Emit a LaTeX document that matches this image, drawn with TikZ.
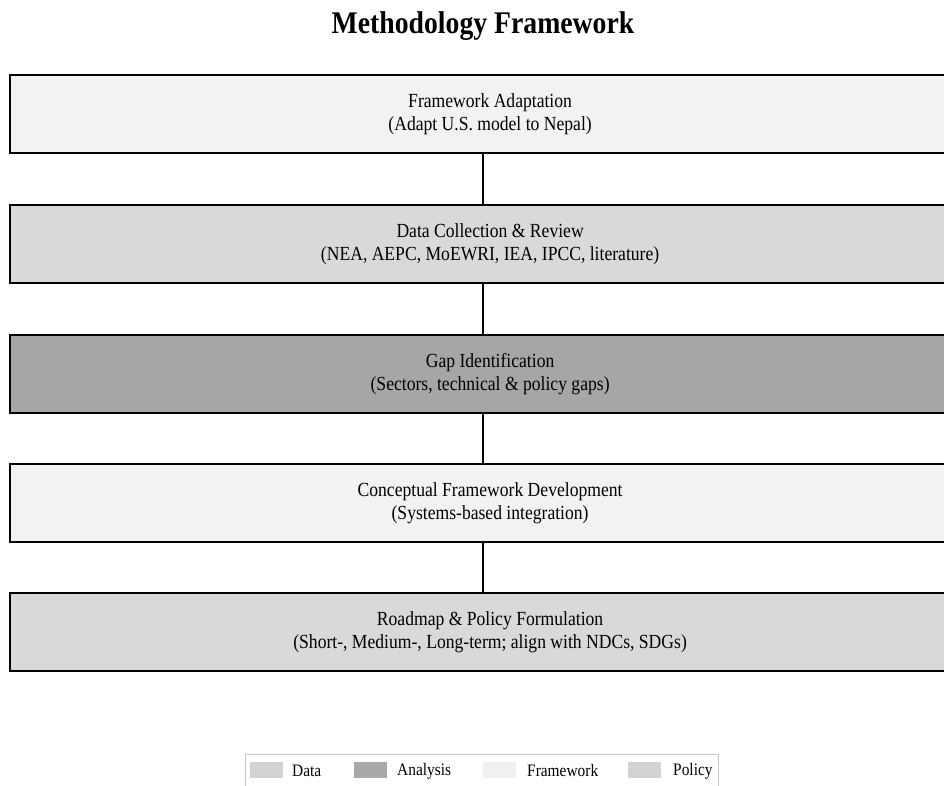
\documentclass[tikz,border=0pt]{standalone}
\usepackage{fontspec}
\setmainfont{Liberation Serif}[FakeStretch=0.88]
\begin{document}
\begin{tikzpicture}[x=1pt,y=-1pt,
  stagebox/.style={draw=black,line width=2.2pt,minimum width=960pt,minimum height=78pt,anchor=north west,inner sep=0pt,align=center,font=\fontsize{20}{23}\selectfont},
  conn/.style={line width=2pt,black},
  swatch/.style={minimum width=33pt,minimum height=16pt,inner sep=0pt,anchor=west},
  legtext/.style={anchor=west,inner sep=0pt,font=\fontsize{17.5}{19}\selectfont}]
\clip (0,0) rectangle (944,786);
\useasboundingbox (0,0) rectangle (944,786);
\fill[white] (0,0) rectangle (944,786);
\node[font=\bfseries\fontsize{31.5}{34}\selectfont] (title) at (483,26) {Methodology Framework};
\node[stagebox,fill={rgb,255:red,242;green,242;blue,242}] (b1) at (9,74) {Framework Adaptation\\(Adapt U.S. model to Nepal)};
\node[stagebox,fill={rgb,255:red,217;green,217;blue,217}] (b2) at (9,204) {Data Collection \& Review\\(NEA, AEPC, MoEWRI, IEA, IPCC, literature)};
\node[stagebox,fill={rgb,255:red,166;green,166;blue,166}] (b3) at (9,334) {Gap Identification\\(Sectors, technical \& policy gaps)};
\node[stagebox,fill={rgb,255:red,242;green,242;blue,242}] (b4) at (9,463) {Conceptual Framework Development\\(Systems-based integration)};
\node[stagebox,fill={rgb,255:red,217;green,217;blue,217}] (b5) at (9,592) {Roadmap \& Policy Formulation\\(Short-, Medium-, Long-term; align with NDCs, SDGs)};
\coordinate (c1) at (483,152);
\draw[conn] (b1.south -| c1) -- (b2.north -| c1);
\draw[conn] (b2.south -| c1) -- (b3.north -| c1);
\draw[conn] (b3.south -| c1) -- (b4.north -| c1);
\draw[conn] (b4.south -| c1) -- (b5.north -| c1);
\node[draw={rgb,255:red,200;green,200;blue,200},line width=0.8pt,fill=white,minimum width=473pt,minimum height=40pt,anchor=north west,inner sep=0pt] (leg) at (245,754) {};
\node[swatch,fill={rgb,255:red,211;green,211;blue,211}] (s1) at (250,770) {};
\node[legtext] (l1) at (292,771) {Data};
\node[swatch,fill={rgb,255:red,169;green,169;blue,169}] (s2) at (354,770) {};
\node[legtext] (l2) at (397,771) {Analysis};
\node[swatch,fill={rgb,255:red,240;green,240;blue,240}] (s3) at (483,770) {};
\node[legtext] (l3) at (527,771) {Framework};
\node[swatch,fill={rgb,255:red,211;green,211;blue,211}] (s4) at (628,770) {};
\node[legtext] (l4) at (673,771) {Policy};
\end{tikzpicture}
\end{document}
